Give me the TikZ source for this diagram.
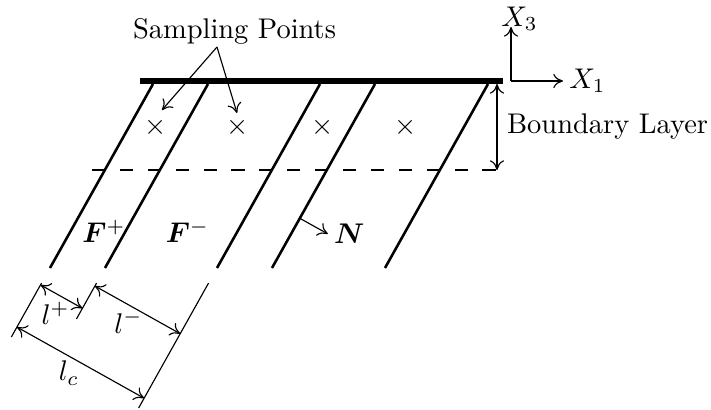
\documentclass[tikz,border=0pt]{standalone}
\usepackage{bm}
\usetikzlibrary{calc,arrows.meta}

\begin{document}
\begin{tikzpicture}[x=1.235mm,y=1.235mm,>={To[length=3.4pt,width=5pt]},font=\fontsize{10}{12}\selectfont,
  wall/.style={line width=2.2pt},
  fibre/.style={line width=0.9pt},
  thinline/.style={line width=0.4pt},
  dimline/.style={<->,line width=0.4pt}]
  \useasboundingbox (0,0) rectangle (71.1,41.0);

  % Slanted fibre walls, top on the plate
  \foreach \i/\x in {1/15.3,2/20.8,3/32.0,4/37.5,5/48.8} {
    \coordinate (t\i) at (\x,32.6);
    \coordinate (b\i) at ($(t\i)+(-10.3,-18.4)$);
    \draw[fibre] (t\i) -- (b\i);
  }
  \coordinate (wl) at (14.0,32.9);
  \coordinate (wr) at (50.3,32.9);
  \draw[wall] (wl) -- (wr);

  % Boundary layer edge
  \coordinate (dl) at (9.2,24.0);
  \coordinate (dr) at (49.7,24.0);
  \coordinate (bt) at (49.7,32.6);
  \draw[thinline,dash pattern=on 4.6pt off 5.2pt] (dl) -- (dr);
  \draw[dimline] (bt) -- (dr) node[midway,right] (bl) {Boundary Layer};

  % Sampling points
  \foreach \i/\x in {1/15.6,2/23.8,3/32.3,4/40.6} {
    \node[inner sep=0pt] (s\i) at (\x,28.3) {$\times$};
  }
  \node (sp) at (23.45,37.9) {Sampling Points};
  \coordinate (spf) at (21.7,36.3);
  \coordinate (sa) at (16.2,30.0);
  \coordinate (sb) at (23.7,29.7);
  \draw[->,thinline] (spf) -- (sa);
  \draw[->,thinline] (spf) -- (sb);

  % Axes
  \coordinate (o) at (51.1,32.9);
  \draw[->,thinline] (o) -- ++(0,5.4) coordinate (x3);
  \draw[->,thinline] (o) -- ++(5.2,0) coordinate (x1);
  \node[inner sep=0pt] (x3l) at (51.95,39.1) {$X_3$};
  \node[right,inner sep=2pt] (x1l) at (x1) {$X_1$};

  % Fibre labels and normal
  \node (fp) at (10.4,17.85) {$\bm{F}^+$};
  \node (fm) at (18.75,17.85) {$\bm{F}^-$};
  \coordinate (n0) at ($(t4)!0.73!(b4)$);
  \draw[->,thinline] (n0) -- ++(2.8,-1.56) coordinate (n1);
  \node[right,inner sep=2pt] (nl) at (n1) {$\bm{N}$};

  % Extension lines
  \draw[thinline] ($(t1)!1.082!(b1)$) -- ($(t1)!1.375!(b1)$);
  \draw[thinline] ($(t2)!1.082!(b2)$) -- ($(t2)!1.277!(b2)$);
  \draw[thinline] ($(t3)!1.082!(b3)$) -- ($(t3)!1.761!(b3)$);

  % Widths
  \coordinate (pa) at ($(t1)!1.092!(b1)$);
  \coordinate (pb) at ($(t2)!1.098!(b2)$);
  \coordinate (pc) at ($(t1)!1.321!(b1)$);
  \draw[dimline] (pa) -- ($(t2)!(pa)!(b2)$);
  \draw[dimline] (pb) -- ($(t3)!(pb)!(b3)$);
  \draw[dimline] (pc) -- ($(t3)!(pc)!(b3)$);
  \node (lp) at (5.55,9.65) {$l^+$};
  \node (lm) at (12.85,8.8) {$l^-$};
  \node (lc) at (6.9,3.7) {$l_c$};
\end{tikzpicture}
\end{document}
